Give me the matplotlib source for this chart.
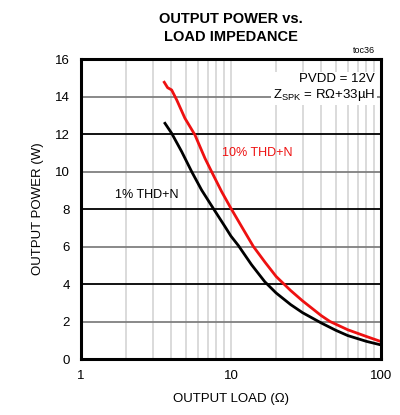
import numpy as np
import matplotlib
matplotlib.use("Agg")
import matplotlib.pyplot as plt

plt.rcParams['font.family'] = ['Liberation Sans', 'DejaVu Sans']
plt.rcParams['mathtext.fontset'] = 'custom'
plt.rcParams['mathtext.rm'] = 'Liberation Sans'

# 1% THD+N
load_1 = [3.63, 4.02, 4.69, 5.47, 6.37, 7.62, 9.12, 10.0, 11.2, 13.7, 16.8, 20.0,
          25.0, 30.0, 40.0, 50.0, 60.0, 80.0, 100]
power_1 = [12.57, 12.04, 11.06, 9.99, 9.01, 8.03, 7.06, 6.55, 6.05, 5.03, 4.12, 3.52,
           2.9, 2.47, 1.92, 1.53, 1.25, 0.94, 0.75]
# 10% THD+N
load_10 = [3.59, 3.78, 4.02, 4.35, 4.93, 5.75, 6.71, 7.62, 8.67, 10.0, 12.1, 14.1,
           16.9, 20.0, 25.0, 30.0, 40.0, 45.7, 60.0, 80.0, 100]
power_10 = [14.76, 14.47, 14.35, 13.81, 12.84, 11.95, 10.70, 9.81, 8.92, 8.03, 6.9, 6.0,
            5.15, 4.4, 3.65, 3.1, 2.31, 2.0, 1.56, 1.2, 0.93]

y_ticks = [0, 2, 4, 6, 8, 10, 12, 14, 16]
x_ticks = [1, 10, 100]

fig = plt.figure(figsize=(4.0, 4.15), dpi=100)
ax = fig.add_axes([81/400, 1-359/415, 300/400, 300/415])

ax.set_xscale('log')
ax.set_xlim(1, 100)
ax.set_ylim(0, 16)

# vertical grid
for d in [1, 10]:
    for m in range(2, 10):
        ax.axvline(d*m, color='#d4d4d4', lw=1.2, zorder=1)
ax.axvline(10, color='#d4d4d4', lw=1.2, zorder=1)
# horizontal grid, alternating grey / black
for yv in y_ticks[1:-1]:
    c = '#808080' if yv in (2, 6, 10, 14) else 'black'
    ax.axhline(yv, color=c, lw=1.3, zorder=1)

ax.plot(load_1, power_1, color='black', lw=2.0, zorder=3, solid_joinstyle='round')
ax.plot(load_10, power_10, color='#ee1111', lw=2.0, zorder=3, solid_joinstyle='round')

ax.text(8.7, 11.0, "10% THD+N", color='#ee1111', fontsize=9, va='center', zorder=4)
ax.text(1.69, 8.75, "1% THD+N", color='black', fontsize=9, va='center', zorder=4)

ax.text(0.98, 0.955, "PVDD = 12V\n" + r"Z$_\mathrm{SPK}$ = RΩ+33µH", transform=ax.transAxes,
        ha='right', va='top', fontsize=9.5, linespacing=1.25, zorder=5,
        bbox=dict(facecolor='white', edgecolor='none', pad=1.5))
ax.text(0.98, 1.012, "toc36", transform=ax.transAxes, ha='right', va='bottom', fontsize=6.5)

ax.set_xticks(x_ticks)
ax.set_xticklabels(["1", "10", "100"])
ax.set_yticks(y_ticks)
ax.xaxis.set_minor_locator(matplotlib.ticker.NullLocator())
ax.tick_params(length=0, labelsize=9.5, pad=8)
for s in ax.spines.values():
    s.set_linewidth(2.2)
    s.set_zorder(6)

ax.set_xlabel("OUTPUT LOAD (Ω)", fontsize=9.5, labelpad=8)
ax.set_ylabel("OUTPUT POWER (W)", fontsize=9.5, labelpad=8)
fig.text(231/400, 1-28/415, "OUTPUT POWER vs.\nLOAD IMPEDANCE", ha='center', va='center',
         fontsize=10.5, fontweight='bold', linespacing=1.3)

fig.savefig("out.png", dpi=100)
